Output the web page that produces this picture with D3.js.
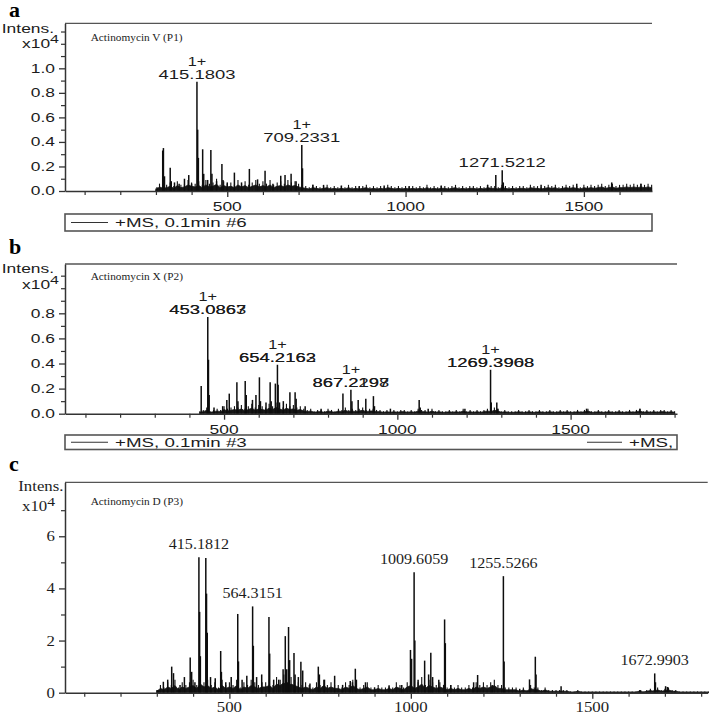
<!DOCTYPE html>
<html><head><meta charset="utf-8">
<script src="https://cdn.jsdelivr.net/npm/d3@7"></script>
<style>body{margin:0;background:#fff}svg{display:block}</style>
</head><body><svg id="c" width="709" height="714"></svg>
<script>
// ---------------- DATA ----------------
// Panel a: Actinomycin V (P1)  (intensity x10^4)
const peakMzA  = [303,319,321,324,340,343,352,365,380,392,400,415,417,419,431,434,445,454,457,470,485,488,500,520,540,562,585,606,628,650,662,679,693,709,711,740,770,820,870,940,1010,1100,1230,1253,1271,1274,1380,1480,1578,1660];
const peakIntA = [0.03,0.33,0.35,0.12,0.19,0.08,0.07,0.06,0.10,0.13,0.06,0.89,0.50,0.27,0.34,0.14,0.09,0.335,0.14,0.08,0.22,0.09,0.07,0.15,0.07,0.18,0.095,0.165,0.06,0.125,0.13,0.14,0.08,0.375,0.185,0.05,0.05,0.045,0.04,0.045,0.04,0.045,0.05,0.13,0.17,0.07,0.05,0.06,0.07,0.06];
const noiseStartA = 300, noiseStepA = 10;
const noiseA = [2,6,4,5,7,4,8,5,6,9,7, 6,8,5,9,6,7,10,5,8,6, 7,5,9,6,8,5,7,9,6,8, 6,9,5,7,8,6,9,7,8,6,
  5,4,3,5,4,3,4,5,3,4, 3,4,3,5,3,4,3,4,5,3, 4,3,4,3,5,4,3,4,3,4, 3,4,3,4,3,5,3,4,3,4,
  4,3,4,5,3,4,3,4,4,3, 4,3,5,4,4,3,5,4,3,4, 3,4,4,3,5,4,4,3,4,5, 4,5,3,4,5,4,5,4,3,5,
  4,5,4,5,6,4,5,6,4,5, 5,6,5,6,5,6,5,6,5]; // x0.01
const labelTextA = ["415.1803","709.2331","1271.5212"];
const labelMzA   = [415,709,1271];
const labelChgA  = ["1+","1+",""];

// Panel b: Actinomycin X (P2)
const peakMzB  = [434,453,455,457,471,496,508,515,537,540,561,564,582,592,602,605,621,633,636,648,654,656,660,671,690,705,708,734,780,843,866,869,887,909,931,934,980,1063,1066,1089,1195,1269,1271,1287,1290,1546,1700];
const peakIntB = [0.22,0.77,0.43,0.15,0.05,0.06,0.11,0.16,0.25,0.10,0.26,0.15,0.11,0.15,0.29,0.10,0.09,0.25,0.10,0.24,0.39,0.23,0.09,0.10,0.17,0.17,0.12,0.06,0.04,0.16,0.19,0.10,0.11,0.12,0.14,0.06,0.04,0.11,0.05,0.04,0.04,0.35,0.09,0.09,0.04,0.04,0.04];
const noiseStartB = 430, noiseStepB = 10;
const noiseB = [2,3,5,2,3,4,3,6,4,5, 6,5,7,4,6,8,5,7,6,5, 8,6,9,7,5,8,6,7,5,6, 4,3,4,2,3,3,2,4,3,2,
  4,3,5,3,4,3,4,5,3,4, 4,3,3,2,3,2,3,2,3,3, 2,3,2,4,3,3,2,4,2,3, 2,2,3,2,3,2,4,2,3,2,
  3,2,3,4,3,5,4,2,3,2, 2,2,3,2,2,3,2,2,3,2, 2,3,2,2,3,2,3,2,2,3, 2,3,4,2,2,3,2,2,3,2,
  2,3,2,2,3,2,3,4,2,3, 2,3,2,3,3,2,3,2]; // x0.01
const labelTextB  = ["453.0863","654.2163","867.2298","1269.3908"];
const labelTextB2 = ["453.0867","654.2162","867.2197","1269.3968"];
const labelMzB    = [453,654,866,1269];
const labelChgB   = ["1+","1+","1+","1+"];

// Panel c: Actinomycin D (P3)
const peakMzC  = [303,318,330,341,346,364,376,392,396,405,416,418,420,435,437,439,448,461,476,478,490,505,523,525,535,548,564,566,575,589,609,611,622,636,648,654,658,663,666,678,681,690,697,702,722,745,748,762,790,812,833,839,847,850,875,900,940,975,999,1002,1009,1011,1020,1038,1049,1055,1060,1077,1093,1095,1110,1173,1184,1224,1255,1257,1300,1327,1343,1345,1414,1633,1672,1674,1702,1707,1727];
const peakIntC = [0.1,0.42,0.5,1.0,0.75,0.3,0.6,1.35,0.8,0.4,5.2,3.1,1.4,5.17,3.8,2.3,0.6,0.55,1.6,0.8,0.4,0.6,3.02,1.2,0.5,0.65,3.31,1.8,0.6,0.7,2.9,1.5,0.5,0.5,0.9,2.17,0.9,2.52,1.25,1.52,0.7,0.6,1.19,0.85,0.35,1.0,0.7,0.5,0.65,0.3,0.45,0.4,0.92,0.5,0.4,0.2,0.25,0.3,1.64,1.3,4.62,2.0,0.5,1.23,0.7,1.53,0.6,0.5,2.81,1.9,0.3,0.4,0.68,0.3,4.47,1.2,0.15,0.51,1.38,0.7,0.25,0.1,0.74,0.4,0.25,0.22,0.05];
const noiseStartC = 300, noiseStepC = 10;
const noiseC = [1,3,2,4,3,5,2,4,3,4, 5,3,6,4,5,3,4,2,5,3, 4,3,5,2,4,3,5,4,3,4, 4,5,3,6,5,7,4,6,5,4,
  3,4,3,2,4,3,5,3,4,3, 3,2,4,3,5,3,2,3,4,2, 2,3,2,2,3,2,4,3,2,4, 5,3,4,6,3,5,4,3,4,3,
  2,3,2,3,2,2,3,2,4,3, 4,3,4,5,3,3,2,2,2,2, 1,2,1,3,2,2,1,2,1,1, 1,1,1,1,0.5,0.5,1,0.5,0.5,0.5,
  0.5,0.5,0.5,0.5,0.5,0.5,0.5,0.5,0.5,0.5, 0.5,0.5,0.5,1,0.5,1,1.5,1,2,1, 1.5,2,1,1,0.5,0.5,0.5,0.5,0.5,0.5, 0.5,0.5,0.5]; // x0.1
const labelTextC = ["415.1812","564.3151","1009.6059","1255.5266","1672.9903"];
const labelMzC   = [416,564,1009,1255,1672];

// Axis ticks
const xMajor = [500,1000,1500];
const xMinorA = [100,200,300,400,600,700,800,900,1100,1200,1300,1400,1600];
const xMinorB = [100,200,300,400,600,700,800,900,1100,1200,1300,1400,1600,1700,1800];
const xMinorC = [100,200,300,400,600,700,800,900,1100,1200,1300,1400,1600,1700,1800];
const yMajorA = [0,0.2,0.4,0.6,0.8,1.0], yMinorA = [0.1,0.3,0.5,0.7,0.9,1.1,1.2,1.3];
const yMajorB = [0,0.2,0.4,0.6,0.8],     yMinorB = [0.1,0.3,0.5,0.7,0.9,1.0,1.1];
const yMajorC = [0,2,4,6],               yMinorC = [1,3,5,7];

const titles = ["Actinomycin V (P1)","Actinomycin X (P2)","Actinomycin D (P3)"];
const legendTexts = ["+MS, 0.1min #6","+MS, 0.1min #3"];

// ---------------- DRAW ----------------
const svg = d3.select("#c");
const SANS = "Liberation Sans, Arial, sans-serif";
const SERIF = "Liberation Serif, Times New Roman, serif";
const INK = "#1c1c1c";

function T(g, x, y, s, o) {
  return g.append("text")
    .attr("transform", `translate(${x},${y}) scale(${o.sx || 1},1)`)
    .attr("text-anchor", o.anchor || "start")
    .attr("font-family", o.font || SANS)
    .attr("font-size", o.size || 12)
    .attr("font-weight", o.weight || "normal")
    .attr("fill", o.fill || INK)
    .text(s);
}

function panel(cfg) {
  const g = svg.append("g");
  const x = d3.scaleLinear().domain(cfg.xDomain).range([cfg.left, cfg.right]);
  const y = d3.scaleLinear().domain(cfg.yDomain).range([cfg.base, cfg.top]);

  // top frame line
  g.append("line").attr("x1", cfg.left).attr("x2", cfg.right)
    .attr("y1", cfg.top).attr("y2", cfg.top).attr("stroke", "#555").attr("stroke-width", 1.3);

  // noise: filled band + sticks
  const noise = cfg.noise.map((v, i) => ({mz: cfg.noiseStart + i * cfg.noiseStep, v: v * cfg.noiseUnit}));
  g.append("path").datum(noise)
    .attr("d", d3.area().x(d => x(d.mz)).y0(y(0)).y1(d => y(d.v * 0.55)))
    .attr("fill", "#161616").attr("stroke", "#161616").attr("stroke-width", 0.8);
  g.append("g").selectAll("line").data(noise).join("line")
    .attr("x1", d => x(d.mz)).attr("x2", d => x(d.mz))
    .attr("y1", y(0)).attr("y2", d => y(d.v))
    .attr("stroke", "#111").attr("stroke-width", 1.1);

  // peaks
  const peaks = cfg.peakMz.map((m, i) => ({mz: m, v: cfg.peakInt[i]}));
  g.append("g").selectAll("line").data(peaks).join("line")
    .attr("x1", d => x(d.mz)).attr("x2", d => x(d.mz))
    .attr("y1", y(0)).attr("y2", d => y(d.v))
    .attr("stroke", "#0d0d0d").attr("stroke-width", 1.5);

  // axes
  const ax = g.append("g").attr("transform", `translate(0,${cfg.base})`)
    .call(d3.axisBottom(x).tickValues(xMajor).tickSize(6).tickSizeOuter(0).tickFormat(""));
  ax.select(".domain").attr("stroke", "#333").attr("stroke-width", 1.5);
  ax.selectAll(".tick line").attr("stroke", "#333").attr("stroke-width", 1.3);
  const axm = g.append("g").attr("transform", `translate(0,${cfg.base})`)
    .call(d3.axisBottom(x).tickValues(cfg.xMinor).tickSize(4).tickFormat(""));
  axm.select(".domain").remove();
  axm.selectAll(".tick line").attr("stroke", "#333").attr("stroke-width", 1.2);

  const ay = g.append("g").attr("transform", `translate(${cfg.left},0)`)
    .call(d3.axisLeft(y).tickValues(cfg.yMajor).tickSize(6).tickSizeOuter(0).tickFormat(""));
  ay.select(".domain").attr("stroke", "#333").attr("stroke-width", 1.5);
  ay.selectAll(".tick line").attr("stroke", "#333").attr("stroke-width", 1.3);
  const aym = g.append("g").attr("transform", `translate(${cfg.left},0)`)
    .call(d3.axisLeft(y).tickValues(cfg.yMinor).tickSize(4).tickFormat(""));
  aym.select(".domain").remove();
  aym.selectAll(".tick line").attr("stroke", "#333").attr("stroke-width", 1.2);

  // tick labels
  cfg.yMajor.forEach(v => T(g, cfg.left - 10, y(v) + cfg.tickSize * 0.36, cfg.yFmt(v),
    {anchor: "end", size: cfg.tickSize, sx: cfg.tickSx, font: cfg.font}));
  xMajor.forEach(v => T(g, x(v), cfg.base + cfg.xLabOff, String(v),
    {anchor: "middle", size: cfg.tickSize, sx: cfg.tickSx, font: cfg.font}));

  // Intens. label
  T(g, cfg.intX, cfg.intY1, "Intens.", {anchor: "end", size: cfg.tickSize, sx: cfg.tickSx, font: cfg.font});
  const t = T(g, cfg.expX, cfg.intY2, "", {anchor: "end", size: cfg.tickSize, sx: cfg.tickSx, font: cfg.font});
  t.append("tspan").text("x10");
  t.append("tspan").attr("dy", -5).attr("font-size", cfg.tickSize - 1).text("4");

  // title
  T(g, 90.7, cfg.titleY, cfg.title, {font: SERIF, size: 11.3});
  // panel letter
  T(g, 9, cfg.letterY, cfg.letter, {font: SERIF, size: 22, weight: "bold", fill: "#000"});

  // peak labels
  const maxNear = m => d3.max(peaks.filter(p => Math.abs(p.mz - m) <= 1), p => p.v);
  cfg.labels.forEach((s, i) => {
    const m = cfg.labelMz[i];
    const yy = y(maxNear(m)) - cfg.labOff;
    T(g, x(m), yy, s, {anchor: "middle", size: cfg.labSize, sx: cfg.labSx, font: cfg.font});
    if (cfg.labels2) T(g, x(m), yy, cfg.labels2[i], {anchor: "middle", size: cfg.labSize, sx: cfg.labSx, font: cfg.font});
    if (cfg.charges && cfg.charges[i]) T(g, x(m), yy - 13, cfg.charges[i], {anchor: "middle", size: cfg.labSize, sx: 1.25, font: cfg.font});
  });

  // legend box
  if (cfg.legend) {
    const L = cfg.legend;
    g.append("rect").attr("x", cfg.left).attr("y", L.y1).attr("width", cfg.right - cfg.left).attr("height", L.y2 - L.y1)
      .attr("fill", "none").attr("stroke", "#555").attr("stroke-width", 1.6);
    const my = (L.y1 + L.y2) / 2;
    g.append("line").attr("x1", 71).attr("x2", 108).attr("y1", my).attr("y2", my).attr("stroke", "#333").attr("stroke-width", 1.2);
    T(g, 115, my + 4.6, L.text, {size: 12.5, sx: 1.5});
    if (L.right) {
      g.append("line").attr("x1", 587).attr("x2", 622).attr("y1", my).attr("y2", my).attr("stroke", "#333").attr("stroke-width", 1.2);
      T(g, 629, my + 4.6, "+MS,", {size: 12.5, sx: 1.5});
    }
  }
}

panel({
  letter: "a", letterY: 17, title: titles[0], titleY: 40.5,
  left: 65, right: 652, top: 23.3, base: 191,
  xDomain: [45, 1691], yDomain: [0, 1.367],
  xMinor: xMinorA, yMajor: yMajorA, yMinor: yMinorA, yFmt: d => d.toFixed(1),
  font: SANS, tickSize: 12, tickSx: 1.45, xLabOff: 20,
  intX: 54, intY1: 33, expX: 59, intY2: 47.5,
  noise: noiseA, noiseStart: noiseStartA, noiseStep: noiseStepA, noiseUnit: 0.01,
  peakMz: peakMzA, peakInt: peakIntA,
  labels: labelTextA, labelMz: labelMzA, charges: labelChgA, labOff: 3, labSize: 13, labSx: 1.42,
  legend: {y1: 214, y2: 231, text: legendTexts[0]}
});

panel({
  letter: "b", letterY: 254, title: titles[1], titleY: 280,
  left: 65, right: 677, top: 264, base: 413.7,
  xDomain: [41, 1807], yDomain: [0, 1.193],
  xMinor: xMinorB, yMajor: yMajorB, yMinor: yMinorB, yFmt: d => d.toFixed(1),
  font: SANS, tickSize: 12, tickSx: 1.45, xLabOff: 20,
  intX: 54, intY1: 273, expX: 59, intY2: 288.5,
  noise: noiseB, noiseStart: noiseStartB, noiseStep: noiseStepB, noiseUnit: 0.01,
  peakMz: peakMzB, peakInt: peakIntB,
  labels: labelTextB, labels2: labelTextB2, labelMz: labelMzB, charges: labelChgB, labOff: 3, labSize: 13, labSx: 1.42,
  legend: {y1: 435, y2: 449.5, text: legendTexts[1], right: true}
});

panel({
  letter: "c", letterY: 470.7, title: titles[2], titleY: 505,
  left: 65, right: 707.7, top: 482.3, base: 692.7,
  xDomain: [47, 1818], yDomain: [0, 8.07],
  xMinor: xMinorC, yMajor: yMajorC, yMinor: yMinorC, yFmt: d => String(d),
  font: SERIF, tickSize: 14, tickSx: 1.2, xLabOff: 19,
  intX: 63.5, intY1: 491, expX: 55, intY2: 511,
  noise: noiseC, noiseStart: noiseStartC, noiseStep: noiseStepC, noiseUnit: 0.1,
  peakMz: peakMzC, peakInt: peakIntC,
  labels: labelTextC, labelMz: labelMzC, labOff: 8, labSize: 14, labSx: 1.15
});
</script></body></html>
